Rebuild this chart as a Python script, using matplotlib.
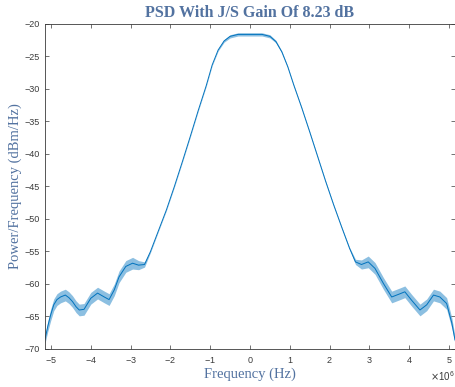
import matplotlib
matplotlib.use("Agg")
import matplotlib.pyplot as plt
import numpy as np
from matplotlib.ticker import MultipleLocator, ScalarFormatter

# PSD trace (frequency in MHz, level in dBm/Hz) and the spread of the noise around it
freq_mhz = [-5.15, -5.08, -5.01, -4.93, -4.85, -4.76, -4.64, -4.55, -4.46, -4.37,
            -4.29, -4.17, -4.08, -4.00, -3.83, -3.66, -3.54, -3.41, -3.29, -3.12,
            -2.95, -2.80, -2.65, -2.50, -2.30, -2.10, -1.90, -1.70, -1.50, -1.30,
            -1.10, -0.95, -0.80, -0.65, -0.50, -0.30, 0.00, 0.30, 0.50, 0.65,
            0.80, 0.95, 1.10, 1.30, 1.50, 1.70, 1.90, 2.10, 2.30, 2.50,
            2.65, 2.80, 2.97, 3.14, 3.35, 3.56, 3.77, 3.89, 4.06, 4.27,
            4.44, 4.61, 4.77, 4.94, 5.07, 5.15]
psd_dbm = [-68.5, -66.5, -64.8, -63.2, -62.4, -62.0, -61.7, -62.1, -62.7, -63.5,
           -64.0, -63.9, -63.0, -62.2, -61.4, -62.0, -62.4, -60.9, -58.9, -57.3,
           -56.8, -57.1, -57.0, -55.0, -51.8, -48.6, -45.0, -41.2, -37.3, -33.3,
           -29.5, -26.3, -24.0, -22.6, -21.9, -21.6, -21.6, -21.6, -21.9, -22.7,
           -24.3, -26.6, -29.4, -32.9, -36.6, -40.4, -44.2, -47.8, -51.2, -54.5,
           -56.6, -57.0, -56.6, -57.6, -59.9, -62.0, -61.5, -61.2, -62.5, -64.0,
           -63.2, -61.7, -62.0, -63.0, -66.0, -68.6]
spread_db = [1.2, 1.6, 1.8, 1.8, 1.8, 1.8, 1.8, 1.8, 1.8, 1.8,
             1.8, 1.8, 1.8, 1.8, 1.8, 1.8, 1.8, 1.8, 1.8, 1.8,
             1.8, 1.4, 0.8, 0.3, 0.2, 0.2, 0.2, 0.2, 0.2, 0.2,
             0.2, 0.2, 0.3, 0.4, 0.5, 0.5, 0.5, 0.5, 0.5, 0.4,
             0.3, 0.2, 0.2, 0.2, 0.2, 0.2, 0.2, 0.2, 0.2, 0.3,
             0.8, 1.4, 1.8, 1.8, 1.8, 1.8, 1.8, 1.8, 1.8, 1.8,
             1.8, 1.8, 1.8, 1.8, 1.6, 1.2]

js_gain_db = 8.23

f_hz = np.array(freq_mhz) * 1e6
psd = np.array(psd_dbm)
half = np.array(spread_db) / 2

line_col = "#0072BD"
label_col = "#5272A0"
axis_col = "#3a3a3a"

plt.rcParams["font.family"] = ["Liberation Sans", "DejaVu Sans"]

fig = plt.figure(figsize=(4.56, 3.87), dpi=100)
ax = fig.add_axes([0.0987, 0.0982, 0.8991, 0.8398])

# noise band first, mean trace on top
ax.fill_between(f_hz, psd - half, psd + half, color=line_col, alpha=0.45, lw=0)
ax.plot(f_hz, psd, color=line_col, lw=0.7)

ax.set_xlim(-5.15e6, 5.15e6)
ax.set_ylim(-70, -20)
ax.xaxis.set_major_locator(MultipleLocator(1e6))
ax.yaxis.set_major_locator(MultipleLocator(5))
fmt = ScalarFormatter(useMathText=True)
fmt.set_powerlimits((0, 0))
ax.xaxis.set_major_formatter(fmt)

ax.tick_params(direction="in", top=True, right=True, length=3, width=0.5,
               colors=axis_col, labelsize=6.5, pad=4)
ax.xaxis.get_offset_text().set_fontsize(7)
ax.xaxis.get_offset_text().set_color(axis_col)
for s in ax.spines.values():
    s.set_color(axis_col)
    s.set_linewidth(0.6)

ax.set_title(f"PSD With J/S Gain Of {js_gain_db:.2f} dB", family="Liberation Serif",
             fontweight="bold", color=label_col, fontsize=11.5, pad=5)
ax.set_xlabel("Frequency (Hz)", family="Liberation Serif", color=label_col,
              fontsize=10.5, labelpad=2)
ax.set_ylabel("Power/Frequency (dBm/Hz)", family="Liberation Serif", color=label_col,
              fontsize=10.5, labelpad=1.5)

fig.savefig("out.png", dpi=100)
